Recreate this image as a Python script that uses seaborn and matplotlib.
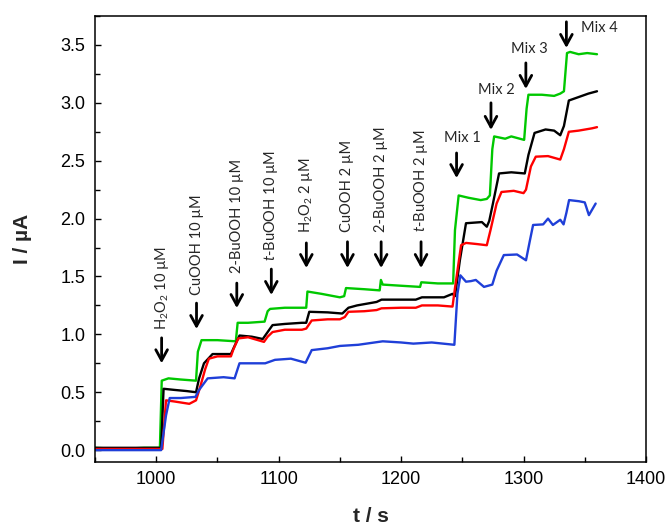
import matplotlib
matplotlib.use("Agg")
import matplotlib.pyplot as plt
import seaborn as sns
import pandas as pd
import numpy as np

# ---------------- data ----------------
green_t = [950, 970, 990, 1003, 1004.5, 1010, 1020, 1032.5, 1034, 1037, 1050, 1065,
           1066.5, 1075, 1088.5, 1091, 1093, 1105, 1122.5, 1123.5, 1135, 1150, 1153.5,
           1155, 1170, 1182.5, 1183.5, 1185, 1200, 1215.5, 1216.5, 1230, 1242.5, 1244,
           1247, 1255, 1265, 1270, 1272.5, 1274.5, 1276, 1285, 1290, 1300.5, 1302.5,
           1304, 1315, 1325, 1330, 1333, 1335.5, 1338, 1345, 1352, 1360]
green_i = [0.02, 0.01, 0.02, 0.02, 0.60, 0.62, 0.61, 0.60, 0.85, 0.95, 0.95, 0.94,
           1.10, 1.10, 1.11, 1.20, 1.22, 1.23, 1.23, 1.37, 1.35, 1.32, 1.33,
           1.40, 1.39, 1.38, 1.47, 1.43, 1.42, 1.41, 1.45, 1.44, 1.44, 1.90,
           2.20, 2.18, 2.16, 2.17, 2.20, 2.60, 2.71, 2.69, 2.71, 2.68, 2.95,
           3.07, 3.07, 3.06, 3.08, 3.10, 3.43, 3.44, 3.42, 3.43, 3.42]

black_t = [950, 980, 1004, 1006, 1015, 1025, 1032.5, 1035, 1039, 1046, 1055, 1061,
           1064, 1068, 1078, 1087, 1091, 1095, 1105, 1119, 1122.5, 1125, 1140, 1152,
           1157, 1164, 1180, 1184, 1200, 1212, 1217, 1235, 1242, 1244, 1248, 1253,
           1266, 1270, 1272, 1275, 1280, 1290, 1301, 1304, 1309, 1318, 1325, 1330,
           1333, 1337, 1345, 1353, 1360]
black_i = [0.02, 0.02, 0.02, 0.53, 0.52, 0.51, 0.50, 0.62, 0.75, 0.83, 0.83, 0.83,
           0.90, 0.99, 0.98, 0.96, 1.02, 1.08, 1.09, 1.10, 1.10, 1.195, 1.19, 1.18,
           1.23, 1.25, 1.28, 1.30, 1.30, 1.30, 1.32, 1.32, 1.35, 1.33, 1.64, 1.96,
           1.97, 1.93, 1.98, 2.13, 2.39, 2.40, 2.39, 2.55, 2.74, 2.77, 2.76, 2.72,
           2.80, 3.02, 3.05, 3.08, 3.10]

red_t = [950, 980, 1005, 1008, 1015, 1027, 1032.5, 1036, 1040, 1043, 1050, 1061,
         1063, 1067, 1075, 1088, 1091, 1095, 1105, 1119, 1122.5, 1127, 1140, 1150,
         1154, 1157, 1170, 1180, 1184, 1200, 1212, 1217, 1230, 1242, 1244, 1249,
         1253, 1262, 1270, 1273, 1278, 1282, 1292, 1300, 1302, 1306, 1310, 1320,
         1330, 1333, 1337, 1345, 1356, 1360]
red_i = [0.01, 0.01, 0.01, 0.43, 0.42, 0.40, 0.43, 0.55, 0.70, 0.79, 0.81, 0.81,
         0.87, 0.965, 0.975, 0.935, 0.98, 1.02, 1.04, 1.04, 1.05, 1.12, 1.13, 1.13,
         1.15, 1.195, 1.20, 1.21, 1.225, 1.23, 1.23, 1.25, 1.25, 1.24, 1.40, 1.77,
         1.79, 1.78, 1.77, 1.90, 2.13, 2.23, 2.24, 2.22, 2.25, 2.45, 2.535, 2.54,
         2.51, 2.60, 2.75, 2.76, 2.78, 2.79]

blue_t = [950, 980, 1004, 1008, 1011, 1020, 1032, 1035, 1042, 1055, 1064, 1068,
          1080, 1089, 1097, 1110, 1122, 1127, 1140, 1150, 1165, 1185, 1200, 1210,
          1225, 1243.5, 1246, 1248.4, 1253, 1257, 1261, 1267.7, 1274.5, 1278, 1283.9,
          1294.7, 1302, 1305, 1307.8, 1316, 1320, 1324, 1330, 1332.7, 1335, 1337.2,
          1345.3, 1350, 1353.4, 1358.9]
blue_i = [0.00, 0.00, 0.00, 0.30, 0.45, 0.45, 0.46, 0.52, 0.62, 0.63, 0.62, 0.75,
          0.75, 0.75, 0.78, 0.79, 0.755, 0.864, 0.88, 0.90, 0.91, 0.94, 0.93, 0.92,
          0.93, 0.91, 1.35, 1.51, 1.455, 1.46, 1.47, 1.41, 1.43, 1.55, 1.685,
          1.69, 1.64, 1.80, 1.945, 1.95, 2.00, 1.945, 1.99, 1.95, 2.05, 2.16,
          2.15, 2.14, 2.03, 2.13]

series_names = ["green", "black", "red", "blue"]
series_colors = ["#00c800", "#000000", "#ff0000", "#1f3fd8"]

# rotated annotations: (label, x, text bottom, arrow top, arrow tip)
anno_labels = [r"H$_2$O$_2$ 10 µM", "CuOOH 10 µM", "2-BuOOH 10 µM", r"$\it{t}$-BuOOH 10 µM",
               r"H$_2$O$_2$ 2 µM", "CuOOH 2 µM", "2-BuOOH 2 µM", r"$\it{t}$-BuOOH 2 µM"]
anno_x = [1004.4, 1032.9, 1065.8, 1094.0, 1122.6, 1156.2, 1183.7, 1216.3]
anno_text_y = [1.04, 1.34, 1.53, 1.63, 1.875, 1.887, 1.887, 1.887]
anno_arrow_top = [0.97, 1.27, 1.443, 1.564, 1.79, 1.80, 1.80, 1.80]
anno_arrow_tip = [0.75, 1.046, 1.227, 1.34, 1.573, 1.573, 1.573, 1.573]

mix_labels = ["Mix 1", "Mix 2", "Mix 3", "Mix 4"]
mix_arrow_x = [1245.3, 1273.4, 1301.9, 1335.0]
mix_arrow_top = [2.567, 3.00, 3.345, 3.70]
mix_arrow_tip = [2.35, 2.766, 3.12, 3.474]
mix_text_x = [1249.7, 1277.5, 1304.6, 1362.2]
mix_text_y = [2.70, 3.11, 3.466, 3.647]

# ---------------- build table ----------------
frames = []
for name, t, i in zip(series_names,
                      [green_t, black_t, red_t, blue_t],
                      [green_i, black_i, red_i, blue_i]):
    frames.append(pd.DataFrame({"t": t, "I": i, "series": name}))
df = pd.concat(frames, ignore_index=True)

# ---------------- style ----------------
sns.set_style("ticks")
plt.rcParams["font.family"] = ["Liberation Sans", "DejaVu Sans"]
plt.rcParams["mathtext.fontset"] = "custom"
plt.rcParams["mathtext.rm"] = "Lato"
plt.rcParams["mathtext.it"] = "Lato:italic"
plt.rcParams["mathtext.bf"] = "Lato:bold"

fig = plt.figure(figsize=(6.71, 5.27), dpi=100)
ax = fig.add_axes([0.1416, 0.1239, 0.8211, 0.8457])

sns.lineplot(data=df, x="t", y="I", hue="series", hue_order=series_names,
             palette=dict(zip(series_names, series_colors)), sort=False,
             estimator=None, linewidth=1.7, legend=False, ax=ax)

ax.set_xlim(950, 1400)
ax.set_ylim(-0.1, 3.75)
ax.set_xticks([1000, 1100, 1200, 1300, 1400])
ax.set_xticks(np.arange(950, 1401, 50), minor=True)
ax.set_yticks(np.arange(0, 3.51, 0.5))
ax.set_yticks(np.arange(0, 3.76, 0.25), minor=True)
ax.yaxis.set_major_formatter(matplotlib.ticker.FormatStrFormatter("%.1f"))
ax.tick_params(which="both", direction="in", width=1.0, colors="black",
               labelsize=13, pad=7)
ax.tick_params(which="major", length=4.5)
ax.tick_params(which="minor", length=3.5)
for s in ax.spines.values():
    s.set_linewidth(1.1)
    s.set_color("black")

ax.set_xlabel("t / s", fontsize=15, fontweight="bold", labelpad=13.5)
ax.set_ylabel("I / µA", fontsize=15, fontweight="bold", labelpad=20)

anno_font = ["Lato", "DejaVu Sans"]
arrow_props = dict(arrowstyle="->,head_width=0.3,head_length=0.55", lw=2.0,
                   color="black", shrinkA=0, shrinkB=0, mutation_scale=14)

for lab, x, ty, at, ap in zip(anno_labels, anno_x, anno_text_y,
                              anno_arrow_top, anno_arrow_tip):
    ax.text(x, ty, lab, rotation=90, ha="center", va="bottom",
            fontsize=10.5, family=anno_font)
    ax.annotate("", xy=(x, ap), xytext=(x, at), arrowprops=arrow_props)

for lab, ax_x, at, ap, tx, ty in zip(mix_labels, mix_arrow_x, mix_arrow_top,
                                     mix_arrow_tip, mix_text_x, mix_text_y):
    ax.text(tx, ty, lab, ha="center", va="center", fontsize=10.5, family=anno_font)
    ax.annotate("", xy=(ax_x, ap), xytext=(ax_x, at), arrowprops=arrow_props)

fig.savefig("out.png", dpi=100)
